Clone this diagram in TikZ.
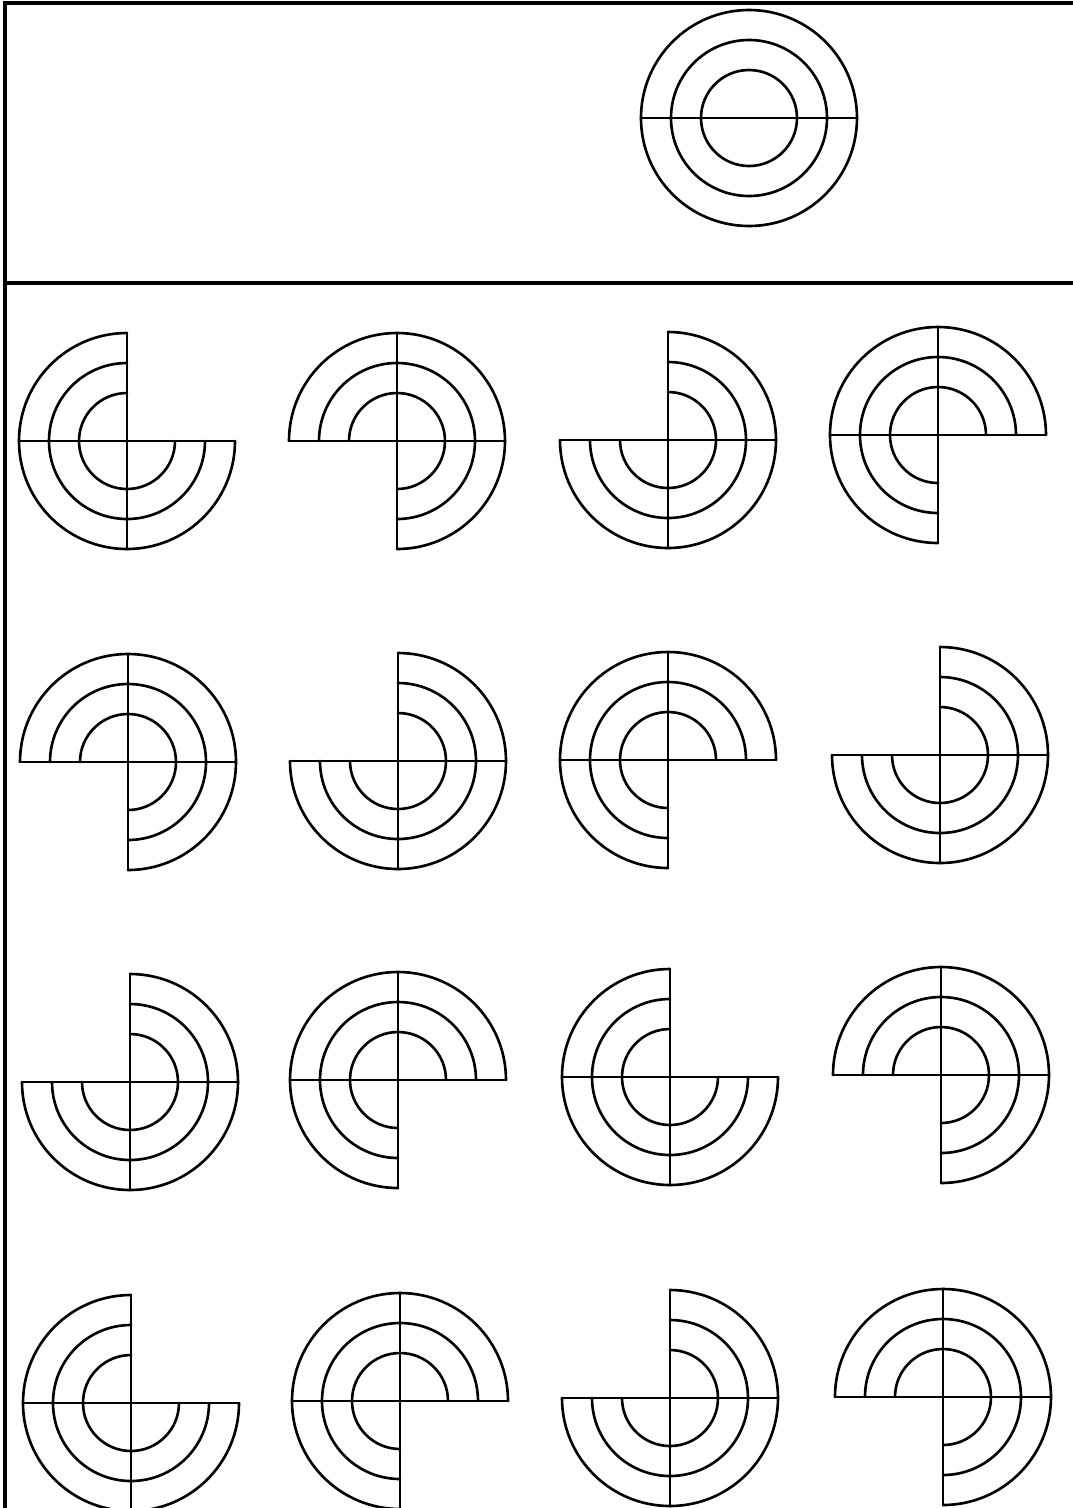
\documentclass[tikz,border=0pt]{standalone}
\usetikzlibrary{calc}
\begin{document}
\begin{tikzpicture}[x=0.01cm,y=0.01cm,
   ink/.style={black,line width=0.75pt,line cap=round},
   rule/.style={black,line width=0.9pt}]
  \useasboundingbox (0,0) rectangle (1073,-1508);
  \draw[rule] (5,-1508) -- (5,-3) -- (1073,-3);
  \draw[rule] (5,-283) -- (1073,-283);
  \coordinate (target) at (749,-118);
  \foreach \r in {48,78,108} \draw[ink] (target) circle[radius=\r];
  \draw[ink] (target) ++(180:108) -- ++(0:216);
  \foreach \n/\x/\y/\m in {11/127/441/0,12/397/441/180,13/668/440/90,14/938/435/270,
      21/128/762/180,22/398/761/90,23/668/760/270,24/940/755/90,
      31/130/1082/90,32/398/1080/270,33/670/1077/0,34/941/1075/180,
      41/131/1403/0,42/400/1401/270,43/670/1398/90,44/943/1397/180} {
    \coordinate (c\n) at (\x,-\y);
    \draw[ink] (c\n) ++(-108,0) -- ++(216,0) (c\n) ++(0,-108) -- ++(0,216);
    \foreach \r in {48,78,108}
      \draw[ink] (c\n) ++({\m+90}:\r) arc[start angle=\m+90,delta angle=270,radius=\r];
  }
\end{tikzpicture}
\end{document}
